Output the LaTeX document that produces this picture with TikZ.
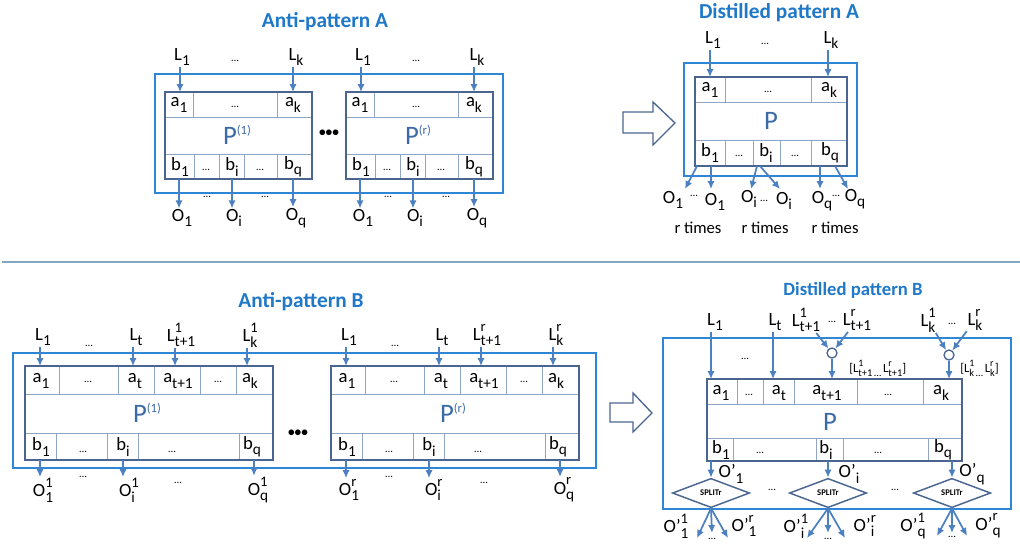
\documentclass[tikz,border=0pt]{standalone}
\usepackage{fontspec}
\usepackage{graphicx}
\setmainfont{Carlito}
\usetikzlibrary{positioning,arrows.meta,shapes.geometric}

\definecolor{titleblue}{HTML}{1F78C8}
\definecolor{outerblue}{HTML}{2E86D6}
\definecolor{innerblue}{HTML}{4A6690}
\definecolor{cellblue}{HTML}{8EA6C6}
\definecolor{flowblue}{HTML}{4C80C0}
\definecolor{ruleblue}{HTML}{7FA6C2}
\definecolor{pblue}{HTML}{3B6AA8}

\newcommand{\lo}[1]{\raisebox{-0.6ex}{\scalebox{0.82}{#1}}}
\newcommand{\hi}[1]{\raisebox{1.05ex}{\scalebox{0.78}{#1}}}
\newcommand{\supsub}[3]{#1\rlap{\hi{#2}}\lo{#3}}
\newcommand{\pup}[1]{\raisebox{0.8ex}{\fontsize{9.5}{10}\selectfont(#1)}}

\tikzset{
  heading/.style={font=\fontsize{16}{18}\selectfont\bfseries, text=titleblue},
  lbl/.style={font=\fontsize{14}{16}\selectfont, inner sep=0.5pt},
  times/.style={font=\fontsize{12.5}{14}\selectfont, inner sep=0.5pt},
  dots/.style={font=\fontsize{8}{9}\selectfont, inner sep=0pt},
  bigdots/.style={font=\fontsize{10}{11}\selectfont\bfseries, inner sep=0pt},
  pname/.style={font=\fontsize{20}{22}\selectfont, text=pblue, inner sep=0pt},
  note/.style={font=\fontsize{9.5}{10}\selectfont, inner sep=0pt},
  outerbox/.style={draw=outerblue, line width=1.4pt},
  innerbox/.style={draw=innerblue, line width=1.3pt},
  cellline/.style={draw=cellblue, line width=0.7pt},
  flow/.style={draw=flowblue, line width=1.3pt, -{Latex[length=6pt,width=5.5pt]}},
  fatarrow/.style={draw=innerblue, line width=1pt, fill=white},
  splitter/.style={diamond, draw=innerblue, line width=1.1pt, aspect=2.6,
    inner sep=0pt, minimum width=58pt, minimum height=22pt,
    font=\fontsize{6.5}{7}\selectfont\bfseries},
  merge/.style={circle, draw=innerblue, line width=1pt, minimum size=7.5pt, inner sep=0pt},
}

\begin{document}
\begin{tikzpicture}[x=0.75pt, y=-0.75pt]
    \useasboundingbox (0,0) rectangle (1020,544);

    % ---------------- Anti-pattern A ----------------
    \node[heading] (titleA) at (325,22) {Anti-pattern A};
    \draw[outerbox] (155,74) rectangle (503,193);
    \foreach \dx/\s/\n in {0/1/p, 181/r/q} {
      \begin{scope}[shift={(\dx,0)}]
        \draw[cellline] (165,117) -- (312,117) (165,154) -- (312,154);
        \foreach \x in {193,277} \draw[cellline] (\x,92) -- (\x,117);
        \foreach \x in {194,219,244,277} \draw[cellline] (\x,154) -- (\x,179);
        \draw[innerbox] (165,92) rectangle (312,179);
        \node[lbl] at (179,105) {a\lo{1}};
        \node[dots] at (235,107) {\ldots};
        \node[lbl] at (293,105) {a\lo{k}};
        \node[pname] at (237,135) {P\pup{\s}};
        \node[lbl] at (180,167) {b\lo{1}};
        \node[dots] at (206,170) {\ldots};
        \node[lbl] at (232,167) {b\lo{i}};
        \node[dots] at (260,170) {\ldots};
        \node[lbl] at (293,167) {b\lo{q}};
        % inputs
        \node[lbl] (\n-l1) at (182,57) {L\lo{1}};
        \node[dots] at (235,61) {\ldots};
        \node[lbl] (\n-lk) at (296,57) {L\lo{k}};
        \coordinate (\n-a1) at (180,92);
        \coordinate (\n-ak) at (293,92);
        \draw[flow] (\n-l1.south -| \n-a1) -- (\n-a1);
        \draw[flow] (\n-lk.south -| \n-ak) -- (\n-ak);
        % outputs
        \coordinate (\n-b1) at (179,179);
        \coordinate (\n-bi) at (232,179);
        \coordinate (\n-bq) at (293,179);
        \node[lbl] (\n-o1) at (182,218) {O\lo{1}};
        \node[lbl] (\n-oi) at (234,218) {O\lo{i}};
        \node[lbl] (\n-oq) at (296,218) {O\lo{q}};
        \node[dots] at (207,197) {\ldots};
        \node[dots] at (265,197) {\ldots};
        \draw[flow] (\n-b1) -- (\n-b1 |- \n-o1.north);
        \draw[flow] (\n-bi) -- (\n-bi |- \n-oi.north);
        \draw[flow] (\n-bq) -- (\n-bq |- \n-oq.north);
      \end{scope}
    }
    \node[bigdots] at (329,133) {•••};

    % ---------------- Distilled pattern A ----------------
    \draw[fatarrow] (623,112) -- (653,112) -- (653,102) -- (675,123)
                    -- (653,145) -- (653,133) -- (623,133) -- cycle;
    \node[heading] (titleDA) at (779,13) {Distilled pattern A};
    \draw[outerbox] (684,63) rectangle (857,176);
    \draw[cellline] (695,102) -- (847,102) (695,140) -- (847,140);
    \foreach \x in {725,811} \draw[cellline] (\x,77) -- (\x,102);
    \foreach \x in {725,753,780,811} \draw[cellline] (\x,140) -- (\x,166);
    \draw[innerbox] (695,77) rectangle (847,166);
    \node[lbl] at (710,90) {a\lo{1}};
    \node[dots] at (768,92) {\ldots};
    \node[lbl] at (829,90) {a\lo{k}};
    \node[pname] at (771,121) {P};
    \node[lbl] at (710,153) {b\lo{1}};
    \node[dots] at (739,156) {\ldots};
    \node[lbl] at (766,153) {b\lo{i}};
    \node[dots] at (795,156) {\ldots};
    \node[lbl] at (830,153) {b\lo{q}};
    \node[lbl] (d-l1) at (713,40) {L\lo{1}};
    \node[dots] at (765,44) {\ldots};
    \node[lbl] (d-lk) at (831,40) {L\lo{k}};
    \coordinate (d-a1) at (710,77);
    \coordinate (d-ak) at (828,77);
    \draw[flow] (d-l1.south -| d-a1) -- (d-a1);
    \draw[flow] (d-lk.south -| d-ak) -- (d-ak);
    % outputs, r times each
    \node[lbl] (d-o1a) at (673,200) {O\lo{1}};
    \node[dots] at (694,196) {\ldots};
    \node[lbl] (d-o1b) at (715,202) {O\lo{1}};
    \node[lbl] (d-oia) at (749,199) {O\lo{i}};
    \node[dots] at (764,201) {\ldots};
    \node[lbl] (d-oib) at (784,201) {O\lo{i}};
    \node[lbl] (d-oqa) at (822,201) {O\lo{q}};
    \node[dots] at (836,196) {\ldots};
    \node[lbl] (d-oqb) at (855,199) {O\lo{q}};
    \coordinate (d-b1a) at (697,166);
    \coordinate (d-b1b) at (711,166);
    \coordinate (d-bia) at (757,166);
    \coordinate (d-bib) at (760,166);
    \coordinate (d-bqa) at (820,166);
    \coordinate (d-bqb) at (835,166);
    \draw[flow] (d-b1a) -- (685,189);
    \draw[flow] (d-b1b) -- (711,189);
    \draw[flow] (d-bia) -- (751,189);
    \draw[flow] (d-bib) -- (780,189);
    \draw[flow] (d-bqa) -- (820,189);
    \draw[flow] (d-bqb) -- (848,189);
    \node[times] at (698,228) {r times};
    \node[times] at (765,228) {r times};
    \node[times] at (835,228) {r times};

    % ---------------- separator ----------------
    \draw[ruleblue, line width=1pt] (2,262) -- (1020,262);

    % ---------------- Anti-pattern B ----------------
    \node[heading] (titleB) at (301,302) {Anti-pattern B};
    \draw[outerbox] (13,353) rectangle (596,468);
    \foreach \dx/\s/\n in {0/1/u, 306/r/v} {
      \begin{scope}[shift={(\dx,0)}]
        \draw[cellline] (25,394) -- (273,394) (25,433) -- (273,433);
        \foreach \x in {59,118,154,200,236} \draw[cellline] (\x,366) -- (\x,394);
        \foreach \x in {56,107,138,239} \draw[cellline] (\x,433) -- (\x,460);
        \draw[innerbox] (25,366) rectangle (273,460);
        \node[lbl] at (41,381) {a\lo{1}};
        \node[dots] at (88,382) {\ldots};
        \node[lbl] at (135,381) {a\lo{t}};
        \node[lbl] at (178,381) {a\lo{t+1}};
        \node[dots] at (218,382) {\ldots};
        \node[lbl] at (250,381) {a\lo{k}};
        \node[pname] at (147,413) {P\pup{\s}};
        \node[lbl] at (41,447) {b\lo{1}};
        \node[dots] at (83,452) {\ldots};
        \node[lbl] at (123,447) {b\lo{i}};
        \node[dots] at (172,452) {\ldots};
        \node[lbl] at (252,447) {b\lo{q}};
        % inputs
        \node[lbl] (\n-l1) at (43,337) {L\lo{1}};
        \node[dots] at (89,346) {\ldots};
        \node[lbl] (\n-lt) at (136,337) {L\lo{t}};
        \node[lbl] (\n-lt1) at (181,335) {\supsub{L}{\s}{t+1}};
        \node[lbl] (\n-lk) at (250,335) {\supsub{L}{\s}{k}};
        \coordinate (\n-a1) at (40,366);
        \coordinate (\n-at) at (133,366);
        \coordinate (\n-at1) at (175,366);
        \coordinate (\n-ak) at (247,366);
        \draw[flow] (\n-l1.south -| \n-a1) -- (\n-a1);
        \draw[flow] (\n-lt.south -| \n-at) -- (\n-at);
        \draw[flow] (\n-lt1.south -| \n-at1) -- (\n-at1);
        \draw[flow] (\n-lk.south -| \n-ak) -- (\n-ak);
        % outputs
        \coordinate (\n-b1) at (40,460);
        \coordinate (\n-bi) at (123,460);
        \coordinate (\n-bq) at (254,460);
        \node[lbl] (\n-o1) at (43,490) {\supsub{O}{\s}{1}};
        \node[lbl] (\n-oi) at (127,490) {\supsub{O}{\s}{i}};
        \node[lbl] (\n-oq) at (258,490) {\supsub{O}{\s}{q}};
        \node[dots] at (83,477) {\ldots};
        \node[dots] at (178,483) {\ldots};
        \draw[flow] (\n-b1) -- (\n-b1 |- \n-o1.north);
        \draw[flow] (\n-bi) -- (\n-bi |- \n-oi.north);
        \draw[flow] (\n-bq) -- (\n-bq |- \n-oq.north);
      \end{scope}
    }
    \node[bigdots] at (298,433) {•••};

    % ---------------- Distilled pattern B ----------------
    \draw[fatarrow] (610,403) -- (633,403) -- (633,393) -- (652,413)
                    -- (633,432) -- (633,422) -- (610,422) -- cycle;
    \node[heading, font=\fontsize{14}{16}\selectfont\bfseries] (titleDB) at (853,290) {Distilled pattern B};
    \draw[outerbox] (663,338) rectangle (1011,509);
    \draw[cellline] (707,404) -- (962,404) (707,438) -- (962,438);
    \foreach \x in {737,763,794,857,923} \draw[cellline] (\x,379) -- (\x,404);
    \foreach \x in {733,816,843,928} \draw[cellline] (\x,438) -- (\x,461);
    \draw[innerbox] (707,379) rectangle (962,461);
    \node[lbl] at (721,393) {a\lo{1}};
    \node[dots] at (749,395) {\ldots};
    \node[lbl] at (779,393) {a\lo{t}};
    \node[lbl] at (827,393) {a\lo{t+1}};
    \node[dots] at (888,395) {\ldots};
    \node[lbl] at (941,393) {a\lo{k}};
    \node[pname] at (830,422) {P};
    \node[lbl] at (721,450) {b\lo{1}};
    \node[dots] at (760,453) {\ldots};
    \node[lbl] at (826,450) {b\lo{i}};
    \node[dots] at (878,453) {\ldots};
    \node[lbl] at (943,450) {b\lo{q}};
    % inputs
    \node[lbl] (w-l1) at (715,322) {L\lo{1}};
    \node[lbl] (w-lt) at (775,322) {L\lo{t}};
    \node[dots] at (745,359) {\ldots};
    \coordinate (w-a1) at (711,379);
    \coordinate (w-at) at (773,379);
    \draw[flow] (w-l1.south -| w-a1) -- (w-a1);
    \draw[flow] (w-lt.south -| w-at) -- (w-at);
    \node[lbl] (w-lt1a) at (806,320) {\supsub{L}{1}{t+1}};
    \node[dots] at (832,322) {\ldots};
    \node[lbl] (w-lt1b) at (857,320) {\supsub{L}{r}{t+1}};
    \node[lbl] (w-lka) at (928,320) {\supsub{L}{1}{k}};
    \node[dots] at (952,324) {\ldots};
    \node[lbl] (w-lkb) at (975,320) {\supsub{L}{r}{k}};
    \node[merge] (join1) at (832,353) {};
    \node[merge] (join2) at (949,355) {};
    \draw[flow] (w-lt1a) -- (join1);
    \draw[flow] (w-lt1b) -- (join1);
    \draw[flow] (w-lka) -- (join2);
    \draw[flow] (w-lkb) -- (join2);
    \coordinate (w-at1) at (832,379);
    \coordinate (w-ak) at (949,379);
    \draw[flow] (join1) -- (w-at1);
    \draw[flow] (join2) -- (w-ak);
    \node[note, anchor=west] at (849,368) {[\supsub{L}{1}{t+1}\lo{\,\ldots\,}\supsub{L}{r}{t+1}]};
    \node[note, anchor=west] at (960,368) {[\supsub{L}{1}{k}\lo{\,\ldots\,}\supsub{L}{r}{k}]};
    % outputs through the splitters
    \node[splitter] (split1) at (711,493) {SPLITr};
    \node[splitter] (split2) at (828,493) {SPLITr};
    \node[splitter] (split3) at (952,493) {SPLITr};
    \node[dots] at (772,490) {\ldots};
    \node[dots] at (895,490) {\ldots};
    \coordinate (w-b1) at (711,461);
    \coordinate (w-bi) at (828,461);
    \coordinate (w-bq) at (952,461);
    \draw[flow] (w-b1) -- (split1);
    \draw[flow] (w-bi) -- (split2);
    \draw[flow] (w-bq) -- (split3);
    \node[lbl] at (731,474) {O'\lo{1}};
    \node[lbl] at (849,474) {O'\lo{i}};
    \node[lbl] at (972,474) {O'\lo{q}};
    \coordinate (s1l) at (697,538);
    \coordinate (s1m) at (712,533);
    \coordinate (s1r) at (728,538);
    \coordinate (s2l) at (807,538);
    \coordinate (s2m) at (828,533);
    \coordinate (s2r) at (845,538);
    \coordinate (s3l) at (937,536);
    \coordinate (s3m) at (952,533);
    \coordinate (s3r) at (967,536);
    \foreach \k in {1,2,3}
      \foreach \e in {l,m,r}
        \draw[flow] (split\k.south) -- (s\k\e);
    \node[lbl] at (676,526) {\supsub{O'}{1}{1}};
    \node[dots] at (712,539) {\ldots};
    \node[lbl] at (744,526) {\supsub{O'}{r}{1}};
    \node[lbl] at (794,526) {\supsub{O'}{1}{i}};
    \node[dots] at (828,539) {\ldots};
    \node[lbl] at (864,526) {\supsub{O'}{r}{i}};
    \node[lbl] at (913,526) {\supsub{O'}{1}{q}};
    \node[dots] at (952,537) {\ldots};
    \node[lbl] at (988,526) {\supsub{O'}{r}{q}};
\end{tikzpicture}
\end{document}
